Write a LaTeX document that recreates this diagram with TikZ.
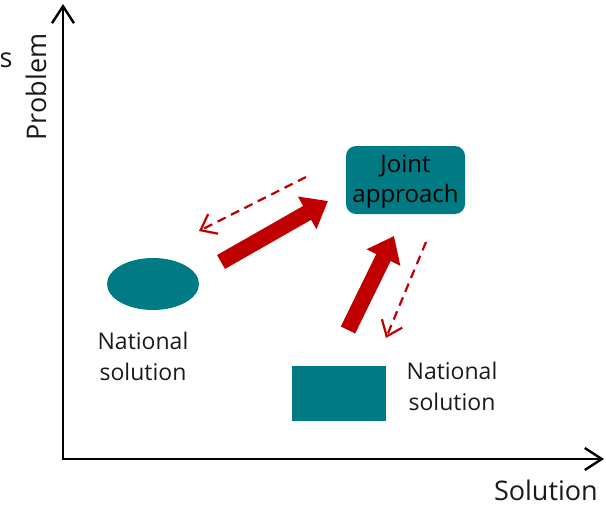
\documentclass[tikz,border=0pt]{standalone}
\usepackage{fontspec}
\setmainfont{Open Sans}
\usetikzlibrary{arrows.meta,shapes.geometric}
\definecolor{teal1}{RGB}{0,123,131}
\definecolor{red1}{RGB}{192,0,0}
\definecolor{txt}{RGB}{26,26,26}
\tikzset{
  axis/.style={line width=2.4pt,-{Straight Barb[length=17pt,width=22pt,line width=2.4pt]}},
  lbl/.style={font=\fontsize{23}{31}\selectfont,text=txt,align=center,inner sep=0pt},
  axlbl/.style={font=\fontsize{27}{32}\selectfont,text=txt,inner sep=0pt},
  bigarrow/.style={red1,line width=16pt,-{Triangle[length=24pt,width=36pt]}},
  dasharrow/.style={red1,line width=2.2pt,dash pattern=on 9pt off 6pt,-{Straight Barb[length=14pt,width=22pt,line width=2.2pt]}},
}
\begin{document}
\begin{tikzpicture}[x=1pt,y=-1pt]
\useasboundingbox (0,0) rectangle (606,506);
\coordinate (O) at (63,459);
\coordinate (Ytop) at (63,4);
\coordinate (Xend) at (604,459);
\draw[axis] (O) -- (Ytop);
\draw[axis] ([xshift=-1.2pt]O) -- (Xend);
\node[axlbl,rotate=90] (ylab) at (36,87) {Problem};
\node[axlbl] (s) at (6,60) {s};
\node[axlbl,anchor=east] (xlab) at (598,490) {Solution};
\node[fill=teal1,ellipse,minimum width=92pt,minimum height=52pt,inner sep=0pt] (ell) at (153,284) {};
\node[fill=teal1,minimum width=94pt,minimum height=55pt,inner sep=0pt] (rect) at (339,393.5) {};
\node[fill=teal1,rounded corners=10pt,minimum width=119pt,minimum height=68pt,inner sep=0pt] (joint) at (405.5,180) {};
\node[font=\fontsize{24}{30}\selectfont,align=center,text=black,inner sep=0pt] (jointtxt) at ([yshift=-2pt]joint.center) {Joint\\approach};
\node[lbl] (nat1) at (143,356) {National\\solution};
\node[lbl] (nat2) at (452,386) {National\\solution};
\coordinate (a1s) at (221,262);
\coordinate (a1e) at (328,201);
\coordinate (a2s) at (348,330);
\coordinate (a2e) at (394,236);
\draw[bigarrow] (a1s) -- (a1e);
\draw[bigarrow] (a2s) -- (a2e);
\coordinate (d1s) at (306,177);
\coordinate (d1e) at (199,231);
\coordinate (d2s) at (426,242);
\coordinate (d2e) at (386,338);
\draw[dasharrow] (d1s) -- (d1e);
\draw[dasharrow] (d2s) -- (d2e);
\end{tikzpicture}
\end{document}
